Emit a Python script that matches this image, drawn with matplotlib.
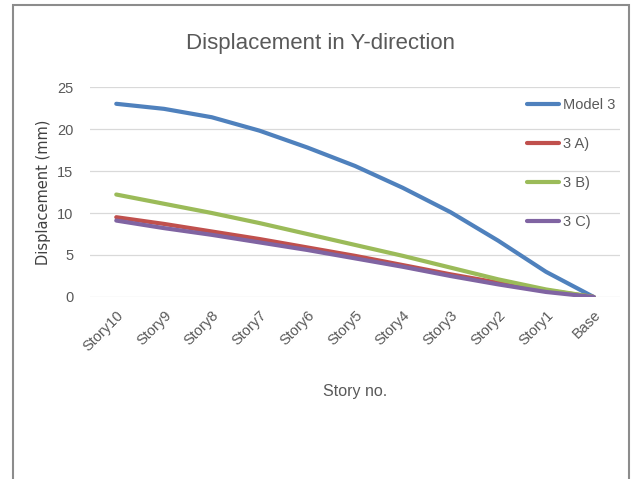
import matplotlib.pyplot as plt
from matplotlib.patches import Rectangle

stories = ['Story10', 'Story9', 'Story8', 'Story7', 'Story6', 'Story5',
           'Story4', 'Story3', 'Story2', 'Story1', 'Base']

model3 = [23.0, 22.4, 21.4, 19.8, 17.8, 15.6, 13.0, 10.1, 6.7, 3.0, 0]
model3a = [9.5, 8.7, 7.8, 6.9, 5.9, 4.9, 3.8, 2.7, 1.7, 0.8, 0]
model3b = [12.2, 11.1, 10.0, 8.8, 7.5, 6.2, 4.9, 3.5, 2.1, 0.9, 0]
model3c = [9.1, 8.2, 7.4, 6.5, 5.6, 4.6, 3.6, 2.5, 1.5, 0.6, 0]

series = [('Model 3', model3, '#4F81BD'),
          ('3 A)', model3a, '#C0504D'),
          ('3 B)', model3b, '#9BBB59'),
          ('3 C)', model3c, '#8064A2')]

plt.rcParams['font.family'] = ['Liberation Sans', 'DejaVu Sans']

fig = plt.figure(figsize=(6.4, 4.79), dpi=100)
ax = fig.add_axes([90/640, 1-297/479, 530/640, 210/479])

x = list(range(len(stories)))
for name, vals, col in series:
    ax.plot(x, vals, color=col, lw=3, label=name, solid_capstyle='round')

ax.set_xlim(-0.55, 10.55)
ax.set_ylim(0, 25)
ax.set_yticks([0, 5, 10, 15, 20, 25])
ax.grid(axis='y', color='#D9D9D9', lw=0.9)
ax.set_axisbelow(True)
for s in ax.spines.values():
    s.set_visible(False)
ax.tick_params(length=0, colors='#595959', labelsize=10.5)
ax.tick_params(axis='y', pad=12)
ax.set_xticks(x)
ax.set_xticklabels(stories, rotation=45, ha='right', rotation_mode='anchor')
ax.tick_params(axis='x', pad=8)

ax.set_xlabel('Story no.', fontsize=11.5, color='#595959', labelpad=22)
ax.set_ylabel('Displacement (mm)', fontsize=10.5, color='#404040',
              family='DejaVu Sans', labelpad=4)

fig.text(0.5, 1-43/479, 'Displacement in Y-direction', ha='center', va='center',
         fontsize=16, color='#595959')

ax.legend(loc='upper left', bbox_to_anchor=(514/640, 1-85/479),
          bbox_transform=fig.transFigure, frameon=False, handlelength=2.2,
          handletextpad=0.25, labelspacing=1.72, fontsize=10.5, labelcolor='#595959')

fig.patches.append(Rectangle((13/640, -0.02), 616/640, 1.02-5/479,
                             transform=fig.transFigure, fill=False,
                             edgecolor='#8C8C8C', lw=1.5))

fig.savefig('out.png', dpi=100)
